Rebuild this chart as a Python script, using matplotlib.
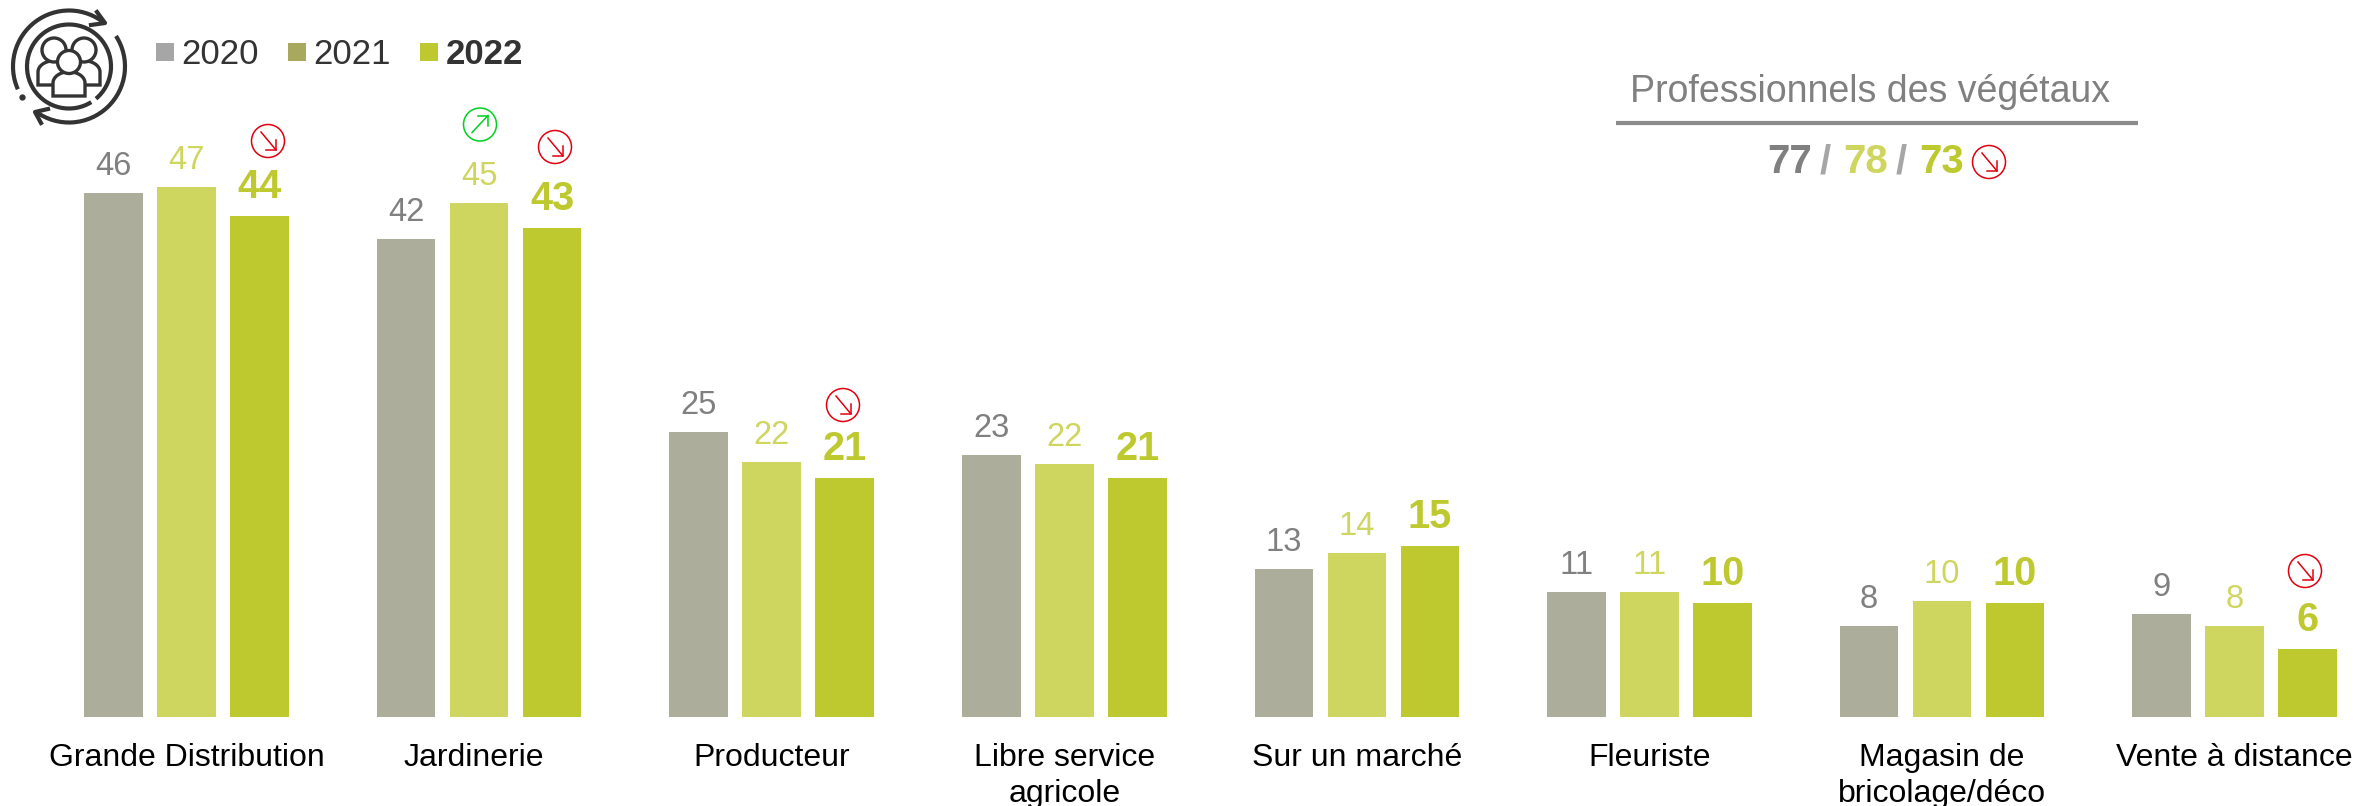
import numpy as np
import matplotlib
matplotlib.use("Agg")
import matplotlib.pyplot as plt
from matplotlib.patches import Arc, Circle, Ellipse, Rectangle

plt.rcParams['font.family'] = ['Liberation Sans', 'DejaVu Sans']

categories = ["Grande Distribution", "Jardinerie", "Producteur", "Libre service\nagricole",
              "Sur un marché", "Fleuriste", "Magasin de\nbricolage/déco", "Vente à distance"]
values_2020 = [46.0, 42.0, 25.0, 23.0, 13.0, 11.0, 8.0, 9.0]
values_2021 = [46.5, 45.1, 22.4, 22.2, 14.4, 11.0, 10.2, 8.0]
values_2022 = [44.0, 42.9, 21.0, 21.0, 15.0, 10.0, 10.0, 6.0]
labels_2020 = ["46", "42", "25", "23", "13", "11", "8", "9"]
labels_2021 = ["47", "45", "22", "22", "14", "11", "10", "8"]
labels_2022 = ["44", "43", "21", "21", "15", "10", "10", "6"]
years = ["2020", "2021", "2022"]
panel_title = "Professionnels des végétaux"
panel_parts = ["77", "/", "78", "/", "73"]

W, H = 2353, 806
BASE_Y, PX_PER_UNIT = 717, 11.39
X0, PITCH = 186.5, 292.6
BAR_GREY, BAR_LIGHT, BAR_GREEN = '#ADAD9C', '#CFD660', '#BEC92F'
TXT_GREY = '#808080'
DARK = '#333333'

fig = plt.figure(figsize=(W / 100, H / 100), dpi=100, facecolor='white')
ax = fig.add_axes([0, 0, 1, 1])
ax.set_xlim(-X0 / PITCH, (W - X0) / PITCH)
ax.set_ylim(-(H - BASE_Y) / PX_PER_UNIT, BASE_Y / PX_PER_UNIT)
ax.axis('off')

xs = np.arange(len(categories))
series = [
    (values_2020, labels_2020, -0.2495, BAR_GREY, TXT_GREY, 23.5, 'normal'),
    (values_2021, labels_2021, 0.0, BAR_LIGHT, BAR_LIGHT, 23.5, 'normal'),
    (values_2022, labels_2022, 0.2495, BAR_GREEN, BAR_GREEN, 28.5, 'bold'),
]
for vals, labs, off, col, tcol, fs, fw in series:
    ax.bar(xs + off, vals, width=0.2, color=col, linewidth=0)
    for x, v, lab in zip(xs + off, vals, labs):
        ax.annotate(lab, (x, v), xytext=(0, 13), textcoords='offset points',
                    ha='center', va='baseline', color=tcol, fontsize=fs, fontweight=fw)

# Category labels, one text per line on fixed baselines
for i, (x, cat) in enumerate(zip(xs, categories)):
    dx = -3.5 if i == 1 else 0
    for k, line in enumerate(cat.split('\n')):
        ax.annotate(line, (x, 0), xytext=(dx, -(49 + 35.7 * k) * 0.72), textcoords='offset points',
                    ha='center', va='baseline', color='black', fontsize=23, annotation_clip=False)

# Overlay in pixel coordinates for decoration
ov = fig.add_axes([0, 0, 1, 1], facecolor='none')
ov.set_xlim(0, W)
ov.set_ylim(H, 0)
ov.axis('off')

# Legend
for sx, tx, year, sc, fw in [(156, 181, years[0], '#A6A6A6', 'normal'),
                             (288, 313, years[1], '#A9A85F', 'normal'),
                             (420, 446, years[2], BAR_GREEN, 'bold')]:
    ov.add_patch(Rectangle((sx, 43), 18, 18, color=sc, lw=0))
    ov.text(tx, 50.5, year, ha='left', va='center_baseline', fontsize=25, color=DARK, fontweight=fw)

# Panel top right
ov.text(1870, 102, panel_title, ha='center', va='baseline', fontsize=27, color=TXT_GREY)
ov.plot([1616, 2138], [123, 123], color='#8C8C8C', lw=3, solid_capstyle='butt')
for px, part, col in zip([1767, 1820, 1843, 1896, 1919], panel_parts,
                         [TXT_GREY, '#A6A6A6', BAR_LIGHT, '#A6A6A6', BAR_GREEN]):
    ov.text(px, 173, part, ha='left', va='baseline', fontsize=29, fontweight='bold', color=col)


def badge(cx, cy, up=False):
    col = '#00D020' if up else '#E2000F'
    ov.add_patch(Ellipse((cx, cy), 33, 33, fill=False, ec=col, lw=1.1))
    if up:
        a, b = (cx - 8, cy + 8), (cx + 8, cy - 9)
        head = [(b[0] - 10, b[1] + 0), b, (b[0] + 0, b[1] + 10)]
    else:
        a, b = (cx - 7, cy - 9), (cx + 8, cy + 9)
        head = [(b[0] - 10, b[1] + 0), b, (b[0] + 0, b[1] - 10)]
    ov.plot([a[0], b[0]], [a[1], b[1]], color=col, lw=1.1)
    ov.plot([p[0] for p in head], [p[1] for p in head], color=col, lw=1.1)


badge(268, 141)
badge(480, 124.5, up=True)
badge(555, 147)
badge(843, 405)
badge(2305, 571)
badge(1989, 162)

# Icon
IC = (69, 66.5)
lw_i = 3.0
ov.add_patch(Arc(IC, 112, 112, theta1=156, theta2=310, ec=DARK, lw=lw_i))
ov.add_patch(Arc(IC, 112, 112, theta1=-33, theta2=126, ec=DARK, lw=lw_i))
ov.add_patch(Arc(IC, 84, 84, theta1=58, theta2=410, ec=DARK, lw=lw_i))
ov.plot([22], [97], marker='o', ms=3.5, color=DARK)
ov.plot([97, 105, 91], [12, 23, 25], color=DARK, lw=lw_i)
ov.plot([48, 35, 41], [109, 112, 123], color=DARK, lw=lw_i)


def person(cx, head_y, head_r, top, bottom, half):
    th = np.linspace(np.pi, 2 * np.pi, 30)
    xs_ = np.concatenate([[cx - half], cx + half * np.cos(th), [cx + half, cx - half]])
    ys_ = np.concatenate([[bottom], top + 0.7 * half * np.sin(th), [bottom, bottom]])
    ov.fill(xs_, ys_, facecolor='white', edgecolor=DARK, lw=2.4, zorder=3)
    ov.add_patch(Circle((cx, head_y), head_r, facecolor='white', edgecolor=DARK, lw=2.4, zorder=3))


person(54, 50, 12, 72, 85, 16)
person(84, 50, 12, 72, 85, 16)
person(69, 62, 11.5, 83, 96, 16)

fig.savefig('out.png', dpi=100, facecolor='white')
